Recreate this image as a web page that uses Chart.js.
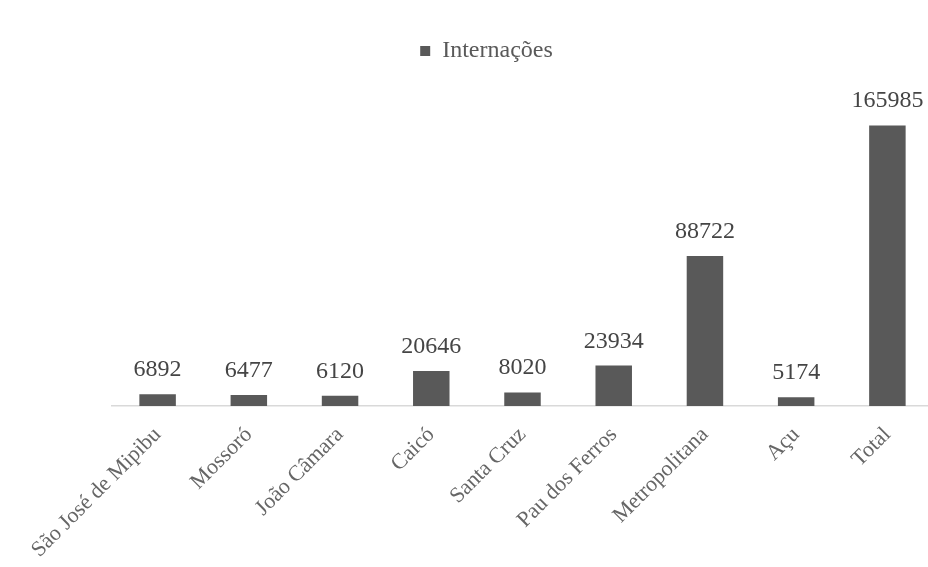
<!DOCTYPE html>
<html>
<head>
<meta charset="utf-8">
<script src="https://cdn.jsdelivr.net/npm/chart.js@4"></script>
<style>
  body { margin: 0; background: #fff; overflow: hidden; }
  .wrap { width: 933px; height: 567px; position: relative; }
</style>
</head>
<body>
<div class="wrap"><canvas class="chart-1"></canvas></div>
<script>
// Data
const regioes = ['São José de Mipibu', 'Mossoró', 'João Câmara', 'Caicó', 'Santa Cruz', 'Pau dos Ferros', 'Metropolitana', 'Açu', 'Total'];
const internacoes = [6892, 6477, 6120, 20646, 8020, 23934, 88722, 5174, 165985];
const serieNome = 'Internações';

const cinza = '#595959';

// Plugin for the numbers above the bars
const valoresNoTopo = {
    id: 'valoresNoTopo',
    afterDatasetsDraw(chart) {
        const ctx = chart.ctx;
        const meta = chart.getDatasetMeta(0);
        ctx.save();
        ctx.font = '24px "Liberation Serif"';
        ctx.fillStyle = '#454545';
        ctx.textAlign = 'center';
        ctx.textBaseline = 'alphabetic';
        meta.data.forEach((bar, i) => {
            ctx.fillText(String(internacoes[i]), bar.x, bar.y - 18);
        });
        ctx.restore();
    }
};

const canvasElement = document.querySelector('.chart-1');
canvasElement.chart = new Chart(canvasElement, {
    type: 'bar',
    data: {
        labels: regioes,
        datasets: [{
            label: serieNome,
            data: internacoes,
            backgroundColor: cinza,
            borderWidth: 0,
            barPercentage: 0.4,
            categoryPercentage: 1
        }]
    },
    plugins: [valoresNoTopo],
    options: {
        responsive: true,
        maintainAspectRatio: false,
        animation: false,
        layout: {
            padding: { top: 29, left: 40, right: 0, bottom: 0 }
        },
        plugins: {
            legend: {
                labels: {
                    boxWidth: 10,
                    boxHeight: 10,
                    padding: 10,
                    color: cinza,
                    font: { family: 'Liberation Serif', size: 24 }
                }
            },
            tooltip: { enabled: false }
        },
        scales: {
            x: {
                grid: { display: false, drawTicks: false },
                border: { display: true, color: '#d9d9d9', width: 1.5 },
                ticks: {
                    color: '#666666',
                    minRotation: 45,
                    maxRotation: 45,
                    padding: 16,
                    font: { family: 'Liberation Serif', size: 22 }
                },
                afterFit(scale) {
                    scale.height = 161;
                    scale.paddingLeft = 112;
                    scale.paddingRight = 0;
                }
            },
            y: {
                display: false,
                min: 0,
                max: 197000
            }
        }
    }
});
</script>
</body>
</html>
